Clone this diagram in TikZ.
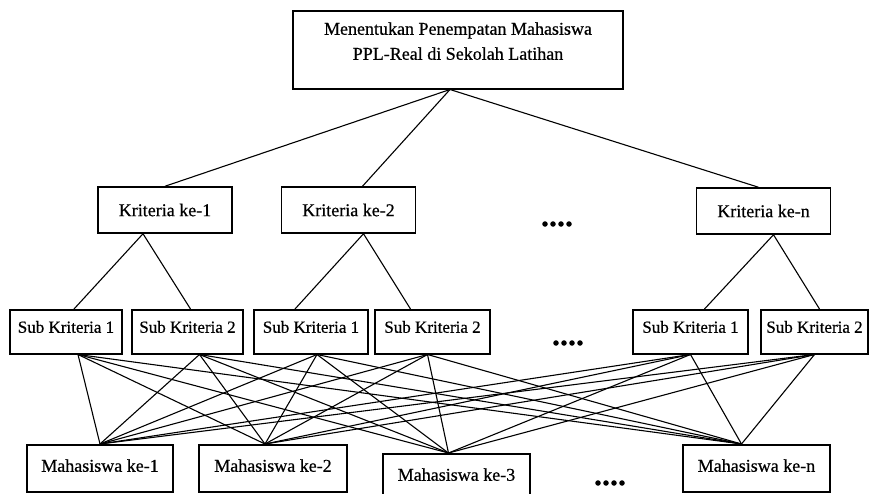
\documentclass[tikz,border=0pt]{standalone}
\usepackage{fontspec}
\setmainfont{Liberation Serif}[FakeBold=0.5]

\tikzset{
  box/.style={draw, line width=1.5pt, inner sep=0pt, fill=white},
  goalbox/.style={box, anchor=north, minimum width=330pt, align=center,
    font=\fontsize{18}{25}\selectfont},
  kritbox/.style={box, minimum width=134pt, minimum height=46pt,
    font=\fontsize{18}{22}\selectfont},
  subbox/.style={box, anchor=north, text height=23pt, text depth=21pt,
    font=\fontsize{17}{20}\selectfont},
  mhsbox/.style={box, anchor=north, text height=27pt, text depth=20pt,
    minimum width=147pt, font=\fontsize{18}{22}\selectfont},
  moredots/.style={font=\fontsize{32}{32}\selectfont\bfseries},
  link/.style={line width=1.1pt},
}

\begin{document}
\begin{tikzpicture}[x=1pt,y=-1pt]
\useasboundingbox (0,0) rectangle (870,493);

% goal
\node[goalbox] (goal) at (458,10)
  {\rule{0pt}{24pt}Menentukan Penempatan Mahasiswa\\
   PPL-Real di Sekolah Latihan\rule[-29pt]{0pt}{29pt}};

% criteria
\node[kritbox] (k1) at (165,210) {Kriteria ke-1};
\node[kritbox] (k2) at (348.5,210) {Kriteria ke-2};
\node[kritbox] (kn) at (763.5,211) {Kriteria ke-n};
\node[moredots] (kdots) at (557,224) {....};

% sub criteria
\node[subbox, minimum width=112pt] (s11) at (66,309) {Sub Kriteria 1};
\node[subbox, minimum width=111pt] (s12) at (187.5,309) {Sub Kriteria 2};
\node[subbox, minimum width=114pt] (s21) at (311,309) {Sub Kriteria 1};
\node[subbox, minimum width=115pt] (s22) at (432.5,309) {Sub Kriteria 2};
\node[subbox, minimum width=115pt] (sn1) at (690.5,309) {Sub Kriteria 1};
\node[subbox, minimum width=107pt] (sn2) at (814.5,309) {Sub Kriteria 2};
\node[moredots] (sdots) at (568,343) {....};

% alternatives
\node[mhsbox, minimum width=146pt] (m1) at (100,444) {Mahasiswa ke-1};
\node[mhsbox, minimum width=148pt] (m2) at (273,444) {Mahasiswa ke-2};
\node[mhsbox] (m3) at (456.5,453) {Mahasiswa ke-3};
\node[mhsbox] (mn) at (756.5,444) {Mahasiswa ke-n};
\node[moredots] (mdots) at (610,483) {....};

% goal -> criteria
\coordinate (gtip) at ([xshift=-8pt]goal.south);
\draw[link] (gtip) -- (k1.north);
\draw[link] (gtip) -- ([xshift=14pt]k2.north);
\draw[link] (gtip) -- ([xshift=-5pt]kn.north);

% criteria -> sub criteria
\foreach \kr/\dk/\sa/\da/\sb/\db in {k1/-22/s11/8/s12/3, k2/15/s21/-16/s22/-22, kn/10/sn1/14/sn2/5}{
  \draw[link] ([xshift=\da pt]\sa.north) -- ([xshift=\dk pt]\kr.south)
    -- ([xshift=\db pt]\sb.north);
}

% sub criteria -> alternatives
\foreach \sk/\ds in {s11/12, s12/12, s21/6, s22/-5, sn1/0, sn2/0}{
  \foreach \mh/\dm in {m1/0, m2/-8, m3/-8, mn/-15}{
    \draw[link] ([xshift=\ds pt]\sk.south) -- ([xshift=\dm pt]\mh.north);
}}
\end{tikzpicture}
\end{document}
